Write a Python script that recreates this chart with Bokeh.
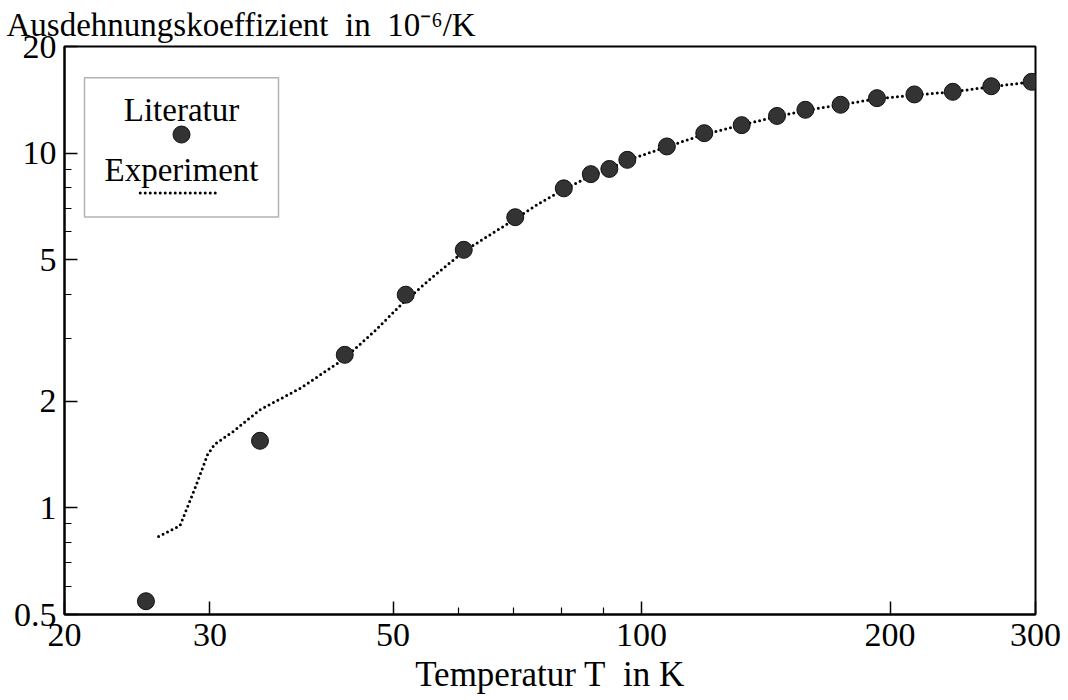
import math

from bokeh.embed import file_html
from bokeh.models import (BoxAnnotation, CustomJSTickFormatter, FixedTicker,
                          Label, Range1d)
from bokeh.plotting import figure
from bokeh.resources import INLINE

# Thermal expansion coefficient vs. temperature
# literature values (markers)
T_lit = [25.1, 34.5, 43.7, 51.8, 60.9, 70.3, 80.5, 86.8, 91.4, 96.1, 107.3,
         119.1, 132.2, 145.9, 157.9, 174.2, 192.8, 214.0, 238.2, 265.2, 296.8]
alpha_lit = [0.545, 1.545, 2.70, 3.99, 5.34, 6.60, 7.96, 8.73, 9.03, 9.58, 10.45,
             11.39, 12.0, 12.74, 13.26, 13.7, 14.3, 14.65, 14.9, 15.45, 15.9]

# measured curve (dotted line)
T_exp = [26.0, 27.6, 28.8, 29.8, 30.4, 32.0, 34.5, 38.7, 43.6, 47.5, 51.5,
         56.0, 61.0, 66.0, 70.5, 75.0, 80.5, 87.0, 91.5, 96.0, 107.0,
         119.0, 132.0, 146.0, 158.0, 174.0, 193.0, 214.0, 238.0, 265.0, 297.0]
alpha_exp = [0.83, 0.89, 1.14, 1.41, 1.51, 1.64, 1.89, 2.18, 2.63, 3.15, 3.80,
             4.50, 5.30, 5.95, 6.55, 7.20, 7.90, 8.65, 9.05, 9.55, 10.40,
             11.30, 12.0, 12.70, 13.20, 13.70, 14.25, 14.60, 14.90, 15.40, 15.90]

x_ticks = [20, 30, 50, 100, 200, 300]
x_minor = [60, 70, 80, 90]
y_ticks = [0.5, 1, 2, 5, 10, 20]
y_minor = [0.6, 0.7, 0.8, 0.9, 3, 4, 6, 7, 8, 9]

X0, X1 = 20, 300
Y0, Y1 = 0.5, 20

FONT = "Liberation Serif"
AX_FS = "34px"
XT_FS = "35px"
LEG_FS = "33px"
TITLE_FS = "33px"
NB = "\u00a0"


def fx(f):
    """Fraction of the frame width -> x data value (log axis)."""
    a, b = math.log10(X0), math.log10(X1)
    return 10 ** (a + f * (b - a))


def fy(f):
    """Fraction of the frame height -> y data value (log axis)."""
    a, b = math.log10(Y0), math.log10(Y1)
    return 10 ** (a + f * (b - a))


p = figure(width=1068, height=700,
           x_axis_type="log", y_axis_type="log",
           x_range=Range1d(X0, X1), y_range=Range1d(Y0, Y1),
           output_backend="svg", toolbar_location=None,
           min_border_left=64, min_border_right=33,
           min_border_top=46, min_border_bottom=86)

# quantity and unit of the y values, written across the top
p.title.text = f"Ausdehnungskoeffizient{NB}{NB}in{NB}{NB}10\u207b\u2076/K"
p.title.align = "left"
p.title.vertical_align = "bottom"
p.title.offset = -58
p.title.standoff = 8
p.title.text_font = FONT
p.title.text_font_size = TITLE_FS
p.title.text_font_style = "normal"
p.title.text_color = "black"

p.grid.visible = False
p.background_fill_color = "white"
p.border_fill_color = "white"
p.outline_line_color = "black"
p.outline_line_width = 2

fmt = CustomJSTickFormatter(code="return String(tick);")

for ax in (p.xaxis[0], p.yaxis[0]):
    ax.axis_line_color = "black"
    ax.axis_line_width = 2
    ax.major_tick_in = 13
    ax.major_tick_out = 0
    ax.minor_tick_in = 7
    ax.minor_tick_out = 0
    ax.major_tick_line_width = 1.5
    ax.minor_tick_line_width = 1.2
    ax.major_tick_line_color = "black"
    ax.minor_tick_line_color = "black"
    ax.major_label_text_font = FONT
    ax.major_label_text_font_size = AX_FS
    ax.major_label_text_color = "black"
    ax.formatter = fmt

p.xaxis[0].ticker = FixedTicker(ticks=x_ticks, minor_ticks=x_minor)
p.yaxis[0].ticker = FixedTicker(ticks=y_ticks, minor_ticks=y_minor)
p.xaxis[0].major_label_standoff = 9
p.yaxis[0].major_label_standoff = 8

p.xaxis[0].axis_label = f"Temperatur T{NB}{NB}in K"
p.xaxis[0].axis_label_text_font = FONT
p.xaxis[0].axis_label_text_font_size = XT_FS
p.xaxis[0].axis_label_text_font_style = "normal"
p.xaxis[0].axis_label_text_color = "black"
p.xaxis[0].axis_label_standoff = 6

# data
p.line(T_exp, alpha_exp, line_color="black", line_width=3,
       line_dash="0 5", line_cap="round")
p.scatter(T_lit, alpha_lit, size=17, fill_color="#333333",
          line_color="#111111", line_width=1)

# legend block: label above its sample
p.add_layout(BoxAnnotation(left=fx(0.0206), right=fx(0.2204),
                           bottom=fy(0.70), top=fy(0.945),
                           fill_color=None, line_color="black", line_width=1.5))
p.add_layout(Label(x=fx(0.1205), y=fy(0.888), text="Literatur",
                   text_align="center", text_baseline="middle",
                   text_font=FONT, text_font_size=LEG_FS, text_color="black"))
p.scatter([fx(0.1205)], [fy(0.845)], size=17, fill_color="#333333",
          line_color="#111111", line_width=1)
p.add_layout(Label(x=fx(0.1205), y=fy(0.783), text="Experiment",
                   text_align="center", text_baseline="middle",
                   text_font=FONT, text_font_size=LEG_FS, text_color="black"))
p.line([fx(0.078), fx(0.159)], [fy(0.742), fy(0.742)], line_color="black",
       line_width=3, line_dash="0 5", line_cap="round")

open("out.html", "w").write(file_html(p, INLINE))
